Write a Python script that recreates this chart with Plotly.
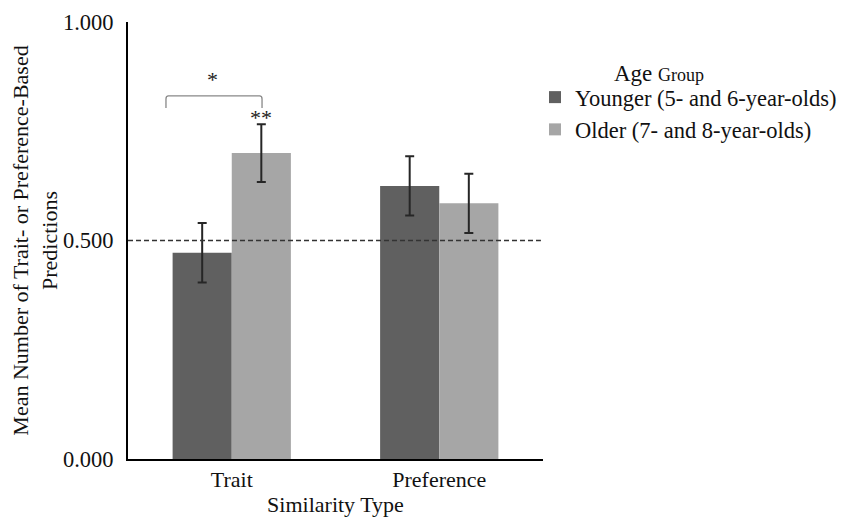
import plotly.graph_objects as go

categories = ["Trait", "Preference"]
younger = [0.472, 0.625]
older = [0.700, 0.585]
younger_err = [0.068, 0.068]
older_err = [0.066, 0.068]
series_names = ["Younger (5- and 6-year-olds)", "Older (7- and 8-year-olds)"]
y_ticks = [0.0, 0.5, 1.0]
y_tick_labels = ["0.000", "0.500", "1.000"]

FONT = "Liberation Serif"

fig = go.Figure()
fig.add_trace(go.Bar(
    x=categories, y=younger, name=series_names[0],
    marker=dict(color="#606060", line=dict(width=0)),
    error_y=dict(type="data", array=younger_err, color="#262626", thickness=2, width=4.5),
    legendgroup="a",
))
fig.add_trace(go.Bar(
    x=categories, y=older, name=series_names[1],
    marker=dict(color="#a6a6a6", line=dict(width=0)),
    error_y=dict(type="data", array=older_err, color="#262626", thickness=2, width=4.5),
    legendgroup="b",
))

# reference line at chance
fig.add_shape(type="line", xref="paper", x0=0, x1=0.995, yref="y", y0=0.5, y1=0.5,
              line=dict(color="#333333", width=1.5, dash="5px,3px"), layer="above")

# significance bracket
fig.add_shape(type="path", xref="x", yref="y",
              path="M -0.317,0.803 L -0.317,0.824 Q -0.317,0.831 -0.305,0.831 L 0.134,0.831 Q 0.146,0.831 0.146,0.824 L 0.146,0.803",
              line=dict(color="#888888", width=1.3))
fig.add_annotation(x=-0.095, y=0.868, xref="x", yref="y", text="*", showarrow=False,
                   font=dict(family=FONT, size=22, color="#222222"))
fig.add_annotation(x=0.1425, y=0.781, xref="x", yref="y", text="**", showarrow=False,
                   font=dict(family=FONT, size=22, color="#222222"))

# legend heading
fig.add_annotation(x=(659 - 128) / 415, y=(459 - 74) / 437, xref="paper", yref="paper",
                   text="Age <span style='font-size:18px'>Group</span>", showarrow=False,
                   xanchor="center", yanchor="middle",
                   font=dict(family=FONT, size=23, color="#111111"))

fig.update_layout(
    width=839, height=513,
    margin=dict(l=120, r=304, t=14, b=62, autoexpand=False),
    paper_bgcolor="white", plot_bgcolor="white",
    barmode="group", bargap=0.43, bargroupgap=0,
    font=dict(family=FONT, size=22, color="#111111"),
    showlegend=True,
    legend=dict(
        x=(535 - 128) / 415, xanchor="left", y=(459 - 76) / 437, yanchor="top", yref="paper",
        font=dict(family=FONT, size=22.5, color="#111111"),
        tracegroupgap=0,
        bgcolor="rgba(0,0,0,0)",
    ),
    xaxis=dict(
        showline=True, linecolor="black", linewidth=2, automargin=False,
        ticks="", tickfont=dict(family=FONT, size=22),
        title=dict(text="Similarity Type", font=dict(family=FONT, size=22), standoff=2),
        range=[-0.5, 1.5],
    ),
    yaxis=dict(
        range=[0, 1], tickvals=y_ticks, ticktext=y_tick_labels, automargin=False,
        showline=True, linecolor="black", linewidth=2, showgrid=False, zeroline=False,
        ticks="", ticklen=0, ticklabelstandoff=8, tickfont=dict(family=FONT, size=22.5),
        title=dict(text="Mean Number of Trait- or Preference-Based<br>Predictions",
                   font=dict(family=FONT, size=22), standoff=10),
    ),
)

fig.write_html("out.html")
